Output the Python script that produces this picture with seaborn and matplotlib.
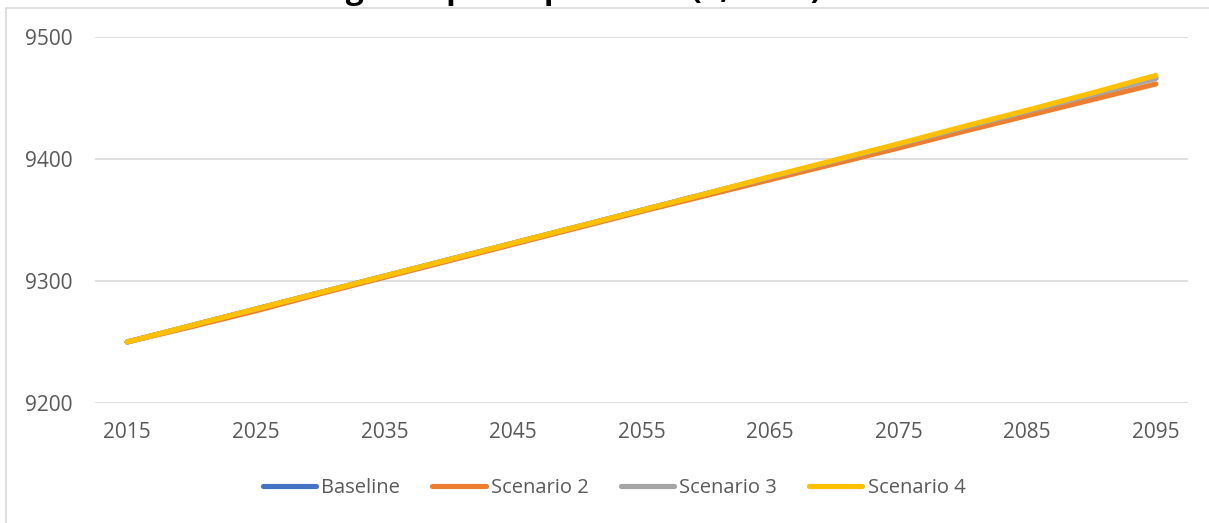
import matplotlib
matplotlib.use("Agg")
import matplotlib.pyplot as plt
from matplotlib.patches import Rectangle
from matplotlib.lines import Line2D
import seaborn as sns
import pandas as pd

# Projection years (5-year steps) and series values
years = [2015, 2020, 2025, 2030, 2035, 2040, 2045, 2050, 2055,
         2060, 2065, 2070, 2075, 2080, 2085, 2090, 2095]
baseline = [9250.0, 9263.5, 9277.0, 9290.5, 9304.0, 9317.5, 9331.0, 9344.5, 9358.0,
            9371.5, 9385.0, 9398.5, 9412.0, 9425.5, 9439.0, 9452.5, 9466.5]
scenario_2 = [9250.0, 9262.5, 9275.5, 9289.5, 9303.0, 9316.5, 9330.0, 9343.5, 9357.0,
              9370.0, 9383.0, 9396.0, 9409.0, 9422.5, 9435.5, 9448.5, 9461.5]
scenario_3 = [9250.0, 9263.5, 9277.0, 9290.5, 9304.0, 9317.5, 9331.0, 9344.5, 9358.0,
              9371.5, 9385.0, 9398.5, 9412.0, 9425.5, 9439.0, 9452.5, 9466.0]
scenario_4 = [9250.0, 9263.5, 9277.0, 9290.5, 9304.0, 9317.5, 9331.0, 9344.5, 9358.0,
              9371.5, 9385.5, 9399.0, 9412.5, 9426.5, 9440.0, 9454.0, 9468.5]
series_names = ["Baseline", "Scenario 2", "Scenario 3", "Scenario 4"]
y_ticks = [9200, 9300, 9400, 9500]
x_labels = [2015, 2025, 2035, 2045, 2055, 2065, 2075, 2085, 2095]
title_text = "Changes in per capita GDP ($, 2015)"

colors = ["#4472C4", "#ED7D31", "#A5A5A5", "#FFC000"]

frames = []
for name, vals in zip(series_names, [baseline, scenario_2, scenario_3, scenario_4]):
    frames.append(pd.DataFrame({"Year": years, "Value": vals, "Series": name}))
df = pd.concat(frames, ignore_index=True)

sns.set_theme(style="white")
plt.rcParams["font.family"] = ["Open Sans", "DejaVu Sans"]

W, H = 1209, 523
fig = plt.figure(figsize=(W / 100, H / 100), dpi=100)
ax = fig.add_axes([95 / W, 1 - 403 / H, (1188 - 95) / W, (403 - 37) / H])

sns.lineplot(data=df, x="Year", y="Value", hue="Series", hue_order=series_names,
             palette=colors, linewidth=3.7, ax=ax, legend=False,
             solid_capstyle="round")

ax.set_xlim(2012.5, 2097.5)
ax.set_ylim(9200, 9500)
ax.set_yticks(y_ticks)
ax.set_xticks(x_labels)
ax.set_xticklabels([str(v) for v in x_labels])
ax.set_xlabel("")
ax.set_ylabel("")
ax.grid(axis="y", color="#D9D9D9", linewidth=1.2)
ax.set_axisbelow(True)
for s in ax.spines.values():
    s.set_visible(False)
ax.tick_params(axis="both", length=0, colors="#595959", labelsize=15)
ax.tick_params(axis="y", pad=16)
ax.tick_params(axis="x", pad=14)

# Chart frame
fig.patches.append(Rectangle((6 / W, -0.1), 1.2, 1.1 - 8 / H, transform=fig.transFigure,
                             fill=False, edgecolor="#D9D9D9", linewidth=1.2))

# Title (sits at the top edge)
fig.text(543 / W, 1 + 2.5 / H, title_text, ha="center", va="baseline",
         fontsize=23, fontweight="bold", color="black")

handles = [Line2D([0], [0], color=c, linewidth=3.7, solid_capstyle="round") for c in colors]
leg = fig.legend(handles, series_names, loc="center", bbox_to_anchor=(614 / W, 1 - 488 / H),
                 ncol=4, frameon=False, fontsize=14.5, handlelength=2.65,
                 handletextpad=0.25, columnspacing=1.6, labelcolor="#595959")

fig.savefig("out.png", dpi=100)
